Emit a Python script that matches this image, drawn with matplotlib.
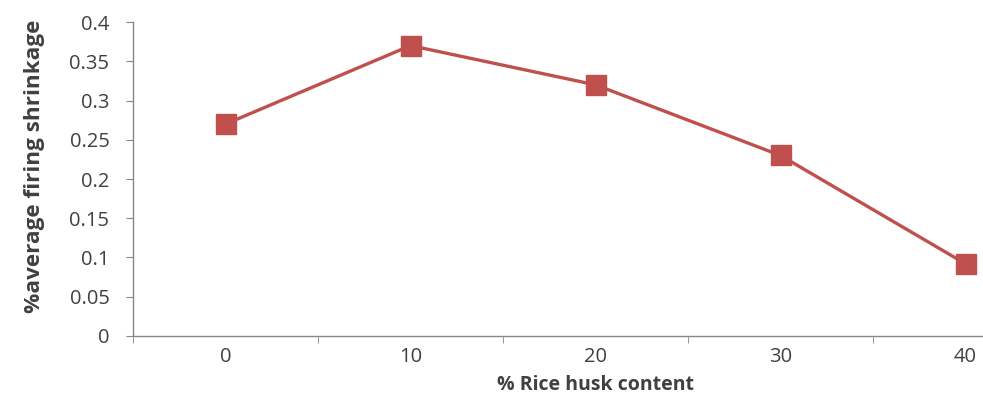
import matplotlib.pyplot as plt
import numpy as np

plt.rcParams['font.family'] = ['Open Sans', 'DejaVu Sans']

# data
husk = ['0', '10', '20', '30', '40']
shrinkage = [0.27, 0.37, 0.32, 0.23, 0.092]

fig = plt.figure(figsize=(9.83, 4.03), dpi=100)
# plot area runs off the right edge, like the cropped original
ax = fig.add_axes([0.1353, 0.1663, 0.941, 0.779])

ind = np.arange(len(husk))
ax.plot(ind, shrinkage, color='#C0504D', linewidth=2.4, marker='s',
        markersize=14, markerfacecolor='#C0504D', markeredgecolor='#C0504D')

ax.set_xlim(-0.5, len(husk) - 0.5)
ax.set_ylim(0, 0.4)
ax.set_yticks(np.arange(0, 0.41, 0.05))
ax.set_yticklabels(['0', '0.05', '0.1', '0.15', '0.2', '0.25', '0.3', '0.35', '0.4'])

# category labels centred, tick marks between categories
ax.set_xticks(ind)
ax.set_xticklabels(husk)
ax.set_xticks(np.arange(-0.5, len(husk), 1.0), minor=True)
ax.tick_params(axis='x', which='major', length=0, pad=8)
ax.tick_params(axis='x', which='minor', length=5, color='#868686', direction='out')
ax.tick_params(axis='y', length=5, color='#868686', direction='out', pad=12)
ax.tick_params(labelsize=14.5, labelcolor='#404040')

for s in ['top', 'right']:
    ax.spines[s].set_visible(False)
for s in ['left', 'bottom']:
    ax.spines[s].set_color('#868686')
    ax.spines[s].set_linewidth(1.0)

ax.set_xlabel('% Rice husk content', fontsize=14, fontweight='bold',
              color='#404040', labelpad=6)
ax.set_ylabel('%average firing shrinkage', fontsize=16.2, fontweight='bold',
              color='#404040')
ax.yaxis.set_label_coords(-0.095, 0.54)

fig.savefig('out.png', dpi=100)
